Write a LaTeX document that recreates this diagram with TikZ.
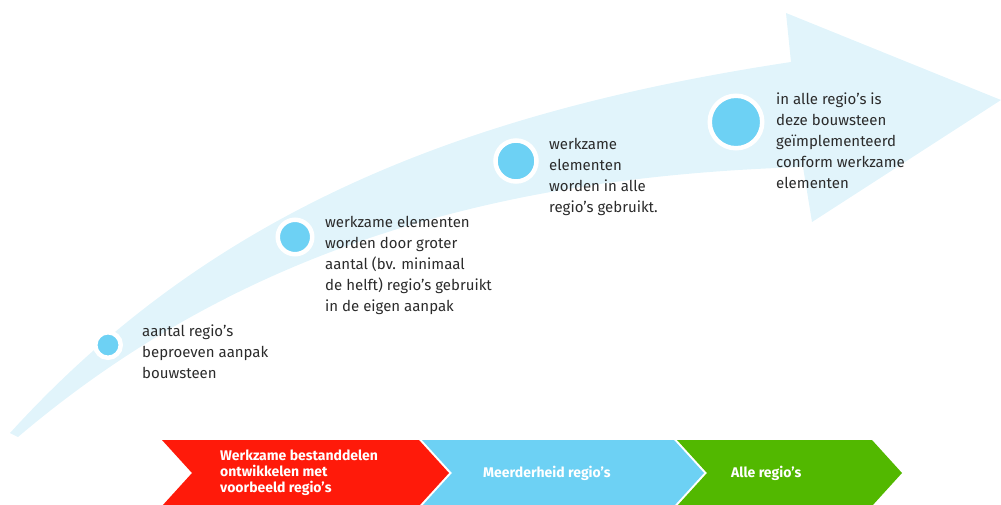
\documentclass[tikz,border=0pt]{standalone}
\usepackage{fontspec}
\setmainfont{Fira Sans}
\usepackage{tikz}
\usetikzlibrary{arrows}
\definecolor{bandblue}{HTML}{E1F4FB}
\definecolor{dotblue}{HTML}{6DD1F4}
\definecolor{stepred}{HTML}{FF1A0A}
\definecolor{stepgreen}{HTML}{52B800}
\definecolor{textgrey}{HTML}{2B2B2B}

\begin{document}
\begin{tikzpicture}[x=1pt,y=-1pt,
  dot/.style={circle, fill=dotblue, draw=white, line width=4.5pt, inner sep=0pt},
  note/.style={anchor=north west, inner sep=0pt, align=left, text=textgrey, font=\fontsize{15}{21}\selectfont},
  steplabel/.style={anchor=west, inner sep=0pt, align=left, text=white, font=\bfseries\fontsize{14}{16}\selectfont}]
\useasboundingbox (0,0) rectangle (1001,504);

% curved arrow in the background
\fill [bandblue] (10,433) .. controls (210,213) and (460,112) .. (791,62) -- (786,13) -- (1001,100) -- (812,222) -- (803,167) .. controls (515,176) and (250,240) .. (18,437) -- cycle;

% milestones
\node [dot, minimum size=25.5pt] (d1) at (108,345) {};
\node [dot, minimum size=34.5pt] (d2) at (295,237) {};
\node [dot, minimum size=41pt] (d3) at (516,161) {};
\node [dot, minimum size=52.5pt] (d4) at (736,122) {};

\node [note] (t1) at (142,325) {aantal regio’s\\beproeven aanpak\\bouwsteen};
\node [note] (t2) at (325,216) {werkzame elementen\\worden door groter\\aantal (bv. minimaal\\de helft) regio’s gebruikt\\in de eigen aanpak};
\node [note] (t3) at (549,138) {werkzame\\elementen\\worden in alle\\regio’s gebruikt.};
\node [note] (t4) at (776,93) {in alle regio’s is\\deze bouwsteen\\geïmplementeerd\\conform werkzame\\elementen};

% phases
\foreach \xa/\xb/\col in {162/419/stepred, 422/674/dotblue, 677/872/stepgreen}
{
\fill [\col] (\xa,440) -- (\xb,440) -- (\xb+30,473) -- (\xb,506) -- (\xa,506) -- (\xa+30,473) -- cycle;
}

\node [steplabel] (s1) at (220,473) {Werkzame bestanddelen\\ontwikkelen met\\voorbeeld regio’s};
\node [steplabel] (s2) at (483,473) {Meerderheid regio’s};
\node [steplabel] (s3) at (731,473) {Alle regio’s};
\end{tikzpicture}
\end{document}
